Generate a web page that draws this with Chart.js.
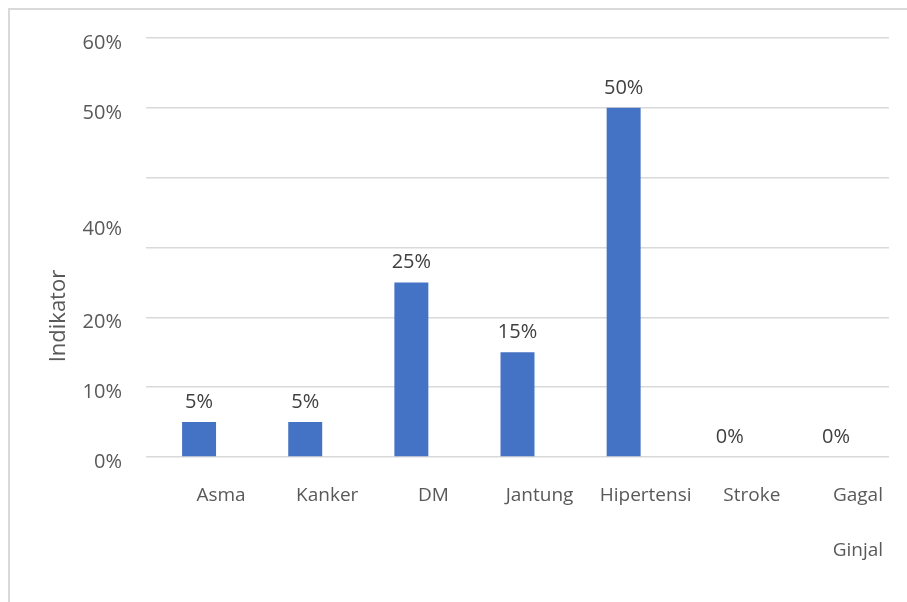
<!DOCTYPE html>
<html><head><meta charset="utf-8">
<script src="https://cdn.jsdelivr.net/npm/chart.js@4.4.0/dist/chart.umd.min.js"></script>
<style>
html,body{margin:0;padding:0;background:#fff;overflow:hidden;width:907px;height:602px;}
#frame{position:absolute;left:8px;top:8px;width:1000px;height:700px;border-left:2px solid #d9d9d9;border-top:2px solid #d9d9d9;}
#wrap{position:absolute;left:0;top:0;width:907px;height:602px;}
</style></head><body>
<div id="frame"></div>
<div id="wrap"><canvas id="c" width="907" height="602"></canvas></div>
<script>
const categories = ['Asma','Kanker','DM','Jantung','Hipertensi','Stroke',['Gagal','Ginjal']];
const values = [5,5,25,15,50,0,0];
const gridValues = [0,10,20,30,40,50,60];
const labelValues = [0,10,20,33.3,50,60];
const labelTexts = ['0%','10%','20%','40%','50%','60%'];
const axisTitle = 'Indikator';

const FONT = "'Open Sans', 'Noto Sans', sans-serif";

const dataLabels = {
  id: 'dataLabels',
  afterDatasetsDraw(chart) {
    const ctx = chart.ctx;
    const meta = chart.getDatasetMeta(0);
    ctx.save();
    ctx.font = "20px " + FONT;
    ctx.fillStyle = '#404040';
    ctx.textAlign = 'center';
    ctx.textBaseline = 'middle';
    meta.data.forEach((bar, i) => {
      ctx.fillText(values[i] + '%', bar.x, bar.y - 20);
    });
    ctx.restore();
  }
};

new Chart(document.getElementById('c'), {
  type: 'bar',
  data: {
    labels: categories,
    datasets: [{
      data: values,
      backgroundColor: '#4472C4',
      borderWidth: 0,
      barPercentage: 0.32,
      categoryPercentage: 1.0
    }]
  },
  options: {
    responsive: false,
    animation: false,
    devicePixelRatio: 1,
    layout: { padding: { top: 38, right: 18, left: 0, bottom: 0 } },
    plugins: { legend: { display: false }, tooltip: { enabled: false } },
    scales: {
      x: {
        grid: { display: false },
        border: { display: false },
        ticks: {
          color: '#595959',
          font: { family: FONT, size: 19, lineHeight: '55px' },
          padding: 3,
          labelOffset: 22,
          maxRotation: 0,
          autoSkip: false
        },
        afterFit(scale) { scale.height = 145; }
      },
      y: {
        min: 0,
        max: 60,
        border: { display: false },
        grid: {
          drawTicks: false,
          lineWidth: 1.5,
          color: (c) => (c.tick && gridValues.includes(c.tick.value)) ? '#d9d9d9' : 'rgba(0,0,0,0)'
        },
        afterBuildTicks(scale) {
          const all = [...new Set([...gridValues, ...labelValues])].sort((a, b) => a - b);
          scale.ticks = all.map(v => ({ value: v }));
        },
        ticks: {
          color: '#595959',
          font: { family: FONT, size: 20 },
          padding: 24,
          labelOffset: 5,
          autoSkip: false,
          callback: (value) => {
            const i = labelValues.indexOf(value);
            return i >= 0 ? labelTexts[i] : '';
          }
        },
        title: {
          display: true,
          text: axisTitle + ' '.repeat(24),
          color: '#595959',
          font: { family: FONT, size: 22 },
          padding: { top: 46, bottom: 0 }
        },
        afterFit(scale) { scale.width = 146; }
      }
    }
  },
  plugins: [dataLabels]
});
</script>
</body></html>
